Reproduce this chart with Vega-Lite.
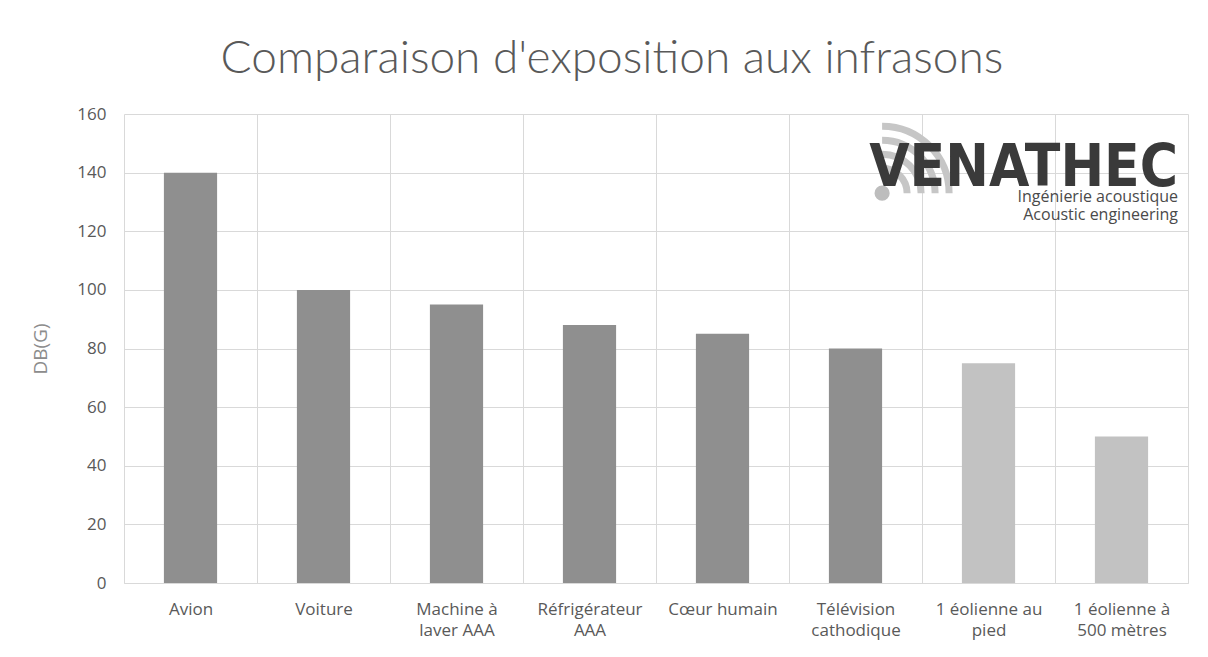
{
  "$schema": "https://vega.github.io/schema/vega-lite/v6.json",
  "autosize": {"type": "none"},
  "width": 1064,
  "height": 469,
  "padding": {"left": 124, "top": 114, "right": 20, "bottom": 74},
  "background": "white",
  "title": {
    "text": "Comparaison d'exposition aux infrasons",
    "font": "Lato",
    "fontWeight": 300,
    "fontSize": 46,
    "color": "#595959",
    "anchor": "middle",
    "dx": -44,
    "offset": 22
  },
  "config": {
    "view": {"stroke": null},
    "axis": {"labelFont": "Open Sans", "titleFont": "Open Sans", "labelColor": "#595959", "titleColor": "#8c8c8c", "gridColor": "#d9d9d9", "domainColor": "#d9d9d9"}
  },
  "datasets": {
    "bars": [
      {"source": "Avion", "dbg": 140, "type": "Autre"},
      {"source": "Voiture", "dbg": 100, "type": "Autre"},
      {"source": "Machine à\nlaver AAA", "dbg": 95, "type": "Autre"},
      {"source": "Réfrigérateur\nAAA", "dbg": 88, "type": "Autre"},
      {"source": "Cœur humain", "dbg": 85, "type": "Autre"},
      {"source": "Télévision\ncathodique", "dbg": 80, "type": "Autre"},
      {"source": "1 éolienne au\npied", "dbg": 75, "type": "Éolienne"},
      {"source": "1 éolienne à\n500 mètres", "dbg": 50, "type": "Éolienne"}
    ],
    "dot": [
      {"source": "Télévision\ncathodique", "dbg": 133}
    ],
    "logo": [
      {"source": "1 éolienne à\n500 mètres", "text": "VENATHEC", "dbg": 135.3, "size": "big"},
      {"source": "1 éolienne à\n500 mètres", "text": "Ingénierie acoustique", "dbg": 129.9, "size": "small"},
      {"source": "1 éolienne à\n500 mètres", "text": "Acoustic engineering", "dbg": 123.8, "size": "small"}
    ]
  },
  "data": {"name": "bars"},
  "encoding": {
    "x": {
      "field": "source",
      "type": "nominal",
      "sort": null,
      "scale": {"paddingInner": 0, "paddingOuter": 0},
      "axis": {
        "title": null,
        "labelAngle": 0,
        "labelFontSize": 17,
        "labelExpr": "split(datum.label, '\\n')",
        "labelLineHeight": 21,
        "labelPadding": 18,
        "labelLimit": 200,
        "ticks": false,
        "grid": true,
        "tickBand": "extent",
        "domain": true
      }
    },
    "y": {
      "field": "dbg",
      "type": "quantitative",
      "scale": {"domain": [0, 160]},
      "axis": {
        "title": "DB(G)",
        "titleFontSize": 19,
        "titleFontWeight": "normal",
        "titlePadding": 26,
        "values": [0, 20, 40, 60, 80, 100, 120, 140, 160],
        "labelFontSize": 17,
        "labelPadding": 18,
        "ticks": false,
        "domain": false,
        "grid": true
      }
    }
  },
  "layer": [
    {
      "mark": {"type": "bar", "width": {"band": 0.4}},
      "encoding": {
        "color": {
          "field": "type",
          "type": "nominal",
          "scale": {"domain": ["Autre", "Éolienne"], "range": ["#8f8f8f", "#c2c2c2"]},
          "legend": null
        }
      }
    },
    {
      "data": {"name": "dot"},
      "mark": {"type": "point", "shape": "M 0 -1 A 1 1 0 0 1 1 0", "filled": false, "size": 2500, "stroke": "#c6c6c6", "strokeWidth": 7, "opacity": 1},
      "encoding": {"x": {"field": "source", "type": "nominal", "bandPosition": 0.7}}
    },
    {
      "data": {"name": "dot"},
      "mark": {"type": "point", "shape": "M 0 -1 A 1 1 0 0 1 1 0", "filled": false, "size": 6084, "stroke": "#c6c6c6", "strokeWidth": 7, "opacity": 1},
      "encoding": {"x": {"field": "source", "type": "nominal", "bandPosition": 0.7}}
    },
    {
      "data": {"name": "dot"},
      "mark": {"type": "point", "shape": "M 0 -1 A 1 1 0 0 1 1 0", "filled": false, "size": 11236, "stroke": "#c6c6c6", "strokeWidth": 7, "opacity": 1},
      "encoding": {"x": {"field": "source", "type": "nominal", "bandPosition": 0.7}}
    },
    {
      "data": {"name": "dot"},
      "mark": {"type": "point", "shape": "M 0 -1 A 1 1 0 0 1 1 0", "filled": false, "size": 17956, "stroke": "#c6c6c6", "strokeWidth": 7, "opacity": 1},
      "encoding": {"x": {"field": "source", "type": "nominal", "bandPosition": 0.7}}
    },
    {
      "data": {"name": "dot"},
      "mark": {"type": "point", "filled": true, "size": 230, "color": "#bdbdbd", "opacity": 1},
      "encoding": {"x": {"field": "source", "type": "nominal", "bandPosition": 0.7}}
    },
    {
      "data": {"name": "logo"},
      "transform": [{"filter": "datum.size == 'big'"}],
      "mark": {"type": "text", "align": "right", "baseline": "alphabetic", "font": "DejaVu Sans Condensed, Roboto, sans-serif", "fontWeight": "bold", "fontSize": 58, "color": "#3a3a3a"},
      "encoding": {
        "x": {"field": "source", "type": "nominal", "bandPosition": 0.925},
        "text": {"field": "text"}
      }
    },
    {
      "data": {"name": "logo"},
      "transform": [{"filter": "datum.size == 'small'"}],
      "mark": {"type": "text", "align": "right", "baseline": "alphabetic", "font": "Open Sans", "fontSize": 16, "color": "#4a4a4a"},
      "encoding": {
        "x": {"field": "source", "type": "nominal", "bandPosition": 0.925},
        "text": {"field": "text"}
      }
    }
  ]
}
